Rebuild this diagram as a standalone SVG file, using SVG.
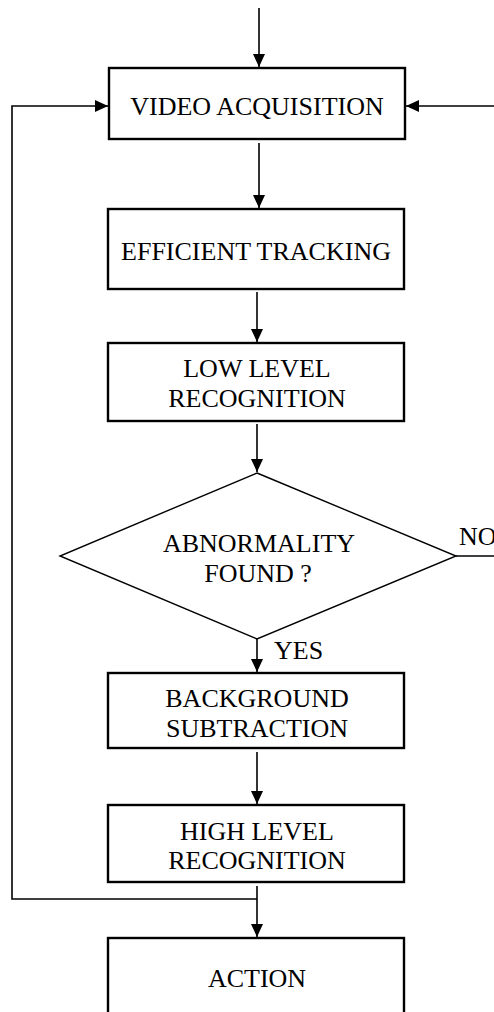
<svg xmlns="http://www.w3.org/2000/svg" width="494" height="1012" viewBox="0 0 494 1012">
<style>
.box{fill:#fff;stroke:#000;stroke-width:2.4}
.dia{fill:#fff;stroke:#000;stroke-width:1.4}
.t{font-family:"Liberation Serif","Times New Roman",serif;font-size:26px;fill:#000;text-anchor:middle}
.l{font-family:"Liberation Serif","Times New Roman",serif;font-size:26px;fill:#000}
.c{fill:none;stroke:#000;stroke-width:1.6}
.ca{fill:none;stroke:#000;stroke-width:1.6;marker-end:url(#ah)}
</style>
<defs>
<marker id="ah" markerUnits="userSpaceOnUse" markerWidth="14" markerHeight="14" viewBox="0 0 14 14" refX="13" refY="7" orient="auto">
<path d="M0,1 L13,7 L0,13 Z" fill="#000"/>
</marker>
</defs>
<rect width="494" height="1012" fill="#fff"/>
<g id="connectors">
<line class="ca" x1="259" y1="8" x2="259" y2="67"/>
<polyline class="ca" points="257,899 12,899 12,106 108,106"/>
<line class="ca" x1="494" y1="106" x2="406" y2="106"/>
<line class="ca" x1="259" y1="143" x2="259" y2="208"/>
<line class="ca" x1="257" y1="292" x2="257" y2="342"/>
<line class="ca" x1="257" y1="424" x2="257" y2="472"/>
<line class="c" x1="456" y1="556" x2="494" y2="556"/>
<line class="ca" x1="257" y1="639" x2="257" y2="672"/>
<line class="ca" x1="257" y1="752" x2="257" y2="804"/>
<line class="ca" x1="257" y1="886" x2="257" y2="937"/>
<text class="l" x="459" y="545">NO</text>
<text class="l" x="274" y="659">YES</text>
</g>
<g id="video">
<rect class="box" x="109" y="68" width="296" height="71"/>
<text class="t" x="257" y="115">VIDEO ACQUISITION</text>
</g>
<g id="tracking">
<rect class="box" x="108" y="209" width="296" height="80"/>
<text class="t" x="256" y="260">EFFICIENT TRACKING</text>
</g>
<g id="lowlevel">
<rect class="box" x="108" y="343" width="296" height="78"/>
<text class="t" x="257" y="377">LOW LEVEL</text>
<text class="t" x="257" y="407">RECOGNITION</text>
</g>
<g id="decision">
<polygon class="dia" points="257,473 456,556 257,639 60,556"/>
<text class="t" x="259" y="552">ABNORMALITY</text>
<text class="t" x="258" y="582">FOUND ?</text>
</g>
<g id="background">
<rect class="box" x="108" y="673" width="296" height="75"/>
<text class="t" x="257" y="707">BACKGROUND</text>
<text class="t" x="257" y="737">SUBTRACTION</text>
</g>
<g id="highlevel">
<rect class="box" x="108" y="805" width="296" height="77"/>
<text class="t" x="257" y="840">HIGH LEVEL</text>
<text class="t" x="257" y="869">RECOGNITION</text>
</g>
<g id="action">
<rect class="box" x="108" y="938" width="296" height="90"/>
<text class="t" x="257" y="987">ACTION</text>
</g>
</svg>
